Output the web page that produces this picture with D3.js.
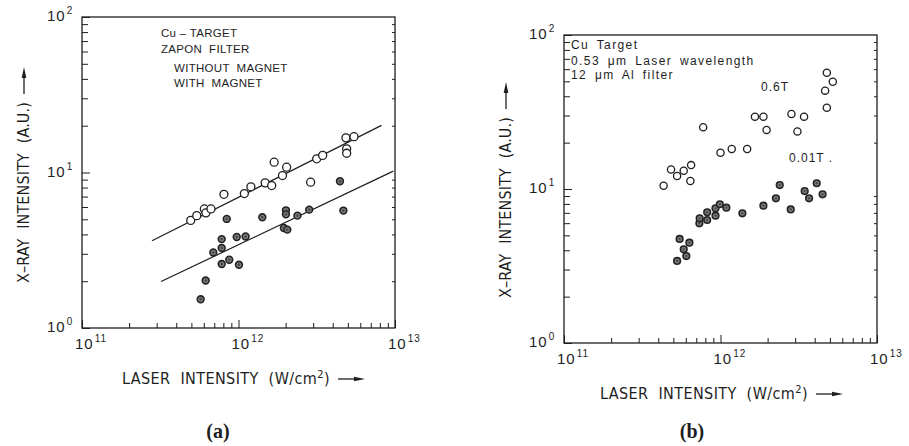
<!DOCTYPE html>
<html><head><meta charset="utf-8">
<script src="https://cdn.jsdelivr.net/npm/d3@7"></script>
<style>body{margin:0;background:#fff}svg{display:block}</style>
</head><body>
<svg id="c" width="909" height="446"></svg>
<script>
// ---- Panel (a): Cu target, Zapon filter ----
const aOpenX = [4.95e11,5.41e11,6.05e11,6.19e11,6.67e11,8.07e11,1.09e12,1.20e12,1.48e12,1.63e12,1.69e12,1.91e12,2.03e12,2.89e12,3.16e12,3.45e12,4.86e12,5.47e12,4.91e12,4.91e12];
const aOpenY = [4.92,5.28,5.83,5.50,5.83,7.24,7.32,8.09,8.58,8.24,11.65,9.56,10.82,8.66,12.25,12.88,16.7,17.0,14.2,13.3];
const aFillX = [5.73e11,6.17e11,6.90e11,7.81e11,7.81e11,7.81e11,8.73e11,8.41e11,9.74e11,1.007e12,1.11e12,1.42e12,2.01e12,2.01e12,1.95e12,2.05e12,2.38e12,2.83e12,4.68e12,4.45e12];
const aFillY = [1.53,2.02,3.06,3.73,3.27,2.58,2.75,5.03,3.85,2.55,3.88,5.15,5.71,5.38,4.40,4.29,5.28,5.77,5.69,8.79];
const aFitUpperX = [2.8e11, 8.2e12];
const aFitUpperY = [3.64, 20.1];
const aFitLowerX = [3.2e11, 9.75e12];
const aFitLowerY = [1.99, 10.2];
const aLegend = ["Cu \u2013 TARGET", "ZAPON  FILTER", "WITHOUT  MAGNET", "WITH  MAGNET"];

// ---- Panel (b): Cu target, 0.53 um, 12 um Al filter ----
const bOpenX = [4.33e11,4.83e11,5.28e11,5.82e11,6.49e11,6.42e11,7.75e11,1.0e12,1.18e12,1.48e12,1.66e12,1.88e12,1.97e12,2.84e12,3.42e12,3.10e12,4.78e12,5.22e12,4.66e12,4.78e12];
const bOpenY = [10.5,13.4,12.15,13.15,14.3,11.27,25.2,17.2,18.2,18.2,29.5,29.5,24.2,30.7,29.5,23.6,56.9,49.7,43.5,33.7];
const bFillX = [5.28e11,5.48e11,5.82e11,6.05e11,6.33e11,7.33e11,7.36e11,8.22e11,8.22e11,9.29e11,9.29e11,9.9e11,1.09e12,1.38e12,1.88e12,2.26e12,2.39e12,2.81e12,3.45e12,3.68e12,4.12e12,4.49e12];
const bFillY = [3.41,4.74,4.06,3.67,4.48,5.99,6.45,7.06,6.29,7.49,6.71,7.96,7.56,6.95,7.79,8.70,10.6,7.37,9.70,8.70,10.9,9.24];
const bLegend = ["Cu Target", "0.53 \u03BCm Laser wavelength", "12 \u03BCm Al filter"];
const bSeriesLabels = ["0.6T", "0.01T ."];

// ---- shared axis ticks ----
const xMajor = [1e11, 1e12, 1e13];
const xExp = ["11", "12", "13"];
const yMajor = [1, 10, 100];
const yExp = ["0", "1", "2"];
const xMinor = [2,3,4,5,6,7,8,9].flatMap(k => [k*1e11, k*1e12]);
const yMinor = [2,3,4,5,6,7,8,9].flatMap(k => [k, k*10]);

const svg = d3.select("#c");
const INK = "#1e1e1e";
const SANS = "'Liberation Sans', Arial, sans-serif";
const NARROW = "'Liberation Sans Narrow', 'DejaVu Sans Condensed', 'Liberation Sans', sans-serif";

// stretch a text to a target width by adjusting letter spacing
function fitWidth(t, target) {
  const n = t.text().length;
  const w = t.node().getComputedTextLength();
  const ls = parseFloat(t.attr("letter-spacing") || 0);
  t.attr("letter-spacing", ls + (target - w) / n);
  return t.node().getComputedTextLength();
}

function arrow(g, x, y) {
  g.append("line").attr("x1", x).attr("x2", x + 20).attr("y1", y).attr("y2", y)
    .attr("stroke", INK).attr("stroke-width", 1.3);
  g.append("path").attr("d", `M${x + 27},${y} L${x + 16},${y - 2.3} L${x + 16},${y + 2.3} Z`)
    .attr("fill", INK);
}

function drawPanel(p) {
  const g = svg.append("g");
  const x = d3.scaleLog().domain([1e11, 1e13]).range([p.x0, p.x1]);
  const y = d3.scaleLog().domain([1, 100]).range([p.y1, p.y0]);

  g.append("rect").attr("x", p.x0).attr("y", p.y0)
    .attr("width", p.x1 - p.x0).attr("height", p.y1 - p.y0)
    .attr("fill", "none").attr("stroke", INK).attr("stroke-width", 1.3);

  const clean = s => s.call(a => a.select(".domain").remove()).attr("color", INK);
  g.append("g").attr("transform", `translate(0,${p.y1})`)
    .call(d3.axisBottom(x).tickValues(xMinor).tickSize(-5).tickSizeOuter(0).tickFormat(""))
    .call(clean);
  g.append("g").attr("transform", `translate(0,${p.y1})`)
    .call(d3.axisBottom(x).tickValues(xMajor).tickSize(-8).tickSizeOuter(0).tickFormat(""))
    .call(clean);
  g.append("g").attr("transform", `translate(${p.x0},0)`)
    .call(d3.axisLeft(y).tickValues(yMinor).tickSize(-6).tickSizeOuter(0).tickFormat(""))
    .call(clean);
  g.append("g").attr("transform", `translate(${p.x0},0)`)
    .call(d3.axisLeft(y).tickValues(yMajor).tickSize(-8).tickSizeOuter(0).tickFormat(""))
    .call(clean);
  g.append("g").attr("transform", `translate(${p.x1},0)`)
    .call(d3.axisRight(y).tickValues(yMinor).tickSize(-3).tickSizeOuter(0).tickFormat(""))
    .call(clean);
  g.selectAll(".tick line").attr("stroke-width", 1);

  xMajor.forEach((v, i) => {
    const t = g.append("text").attr("x", x(v) - 7).attr("y", p.y1 + 21)
      .attr("font-family", SANS).attr("font-size", 15).attr("letter-spacing", 1).attr("fill", INK);
    t.append("tspan").text("10");
    t.append("tspan").attr("dy", -7).attr("dx", 1).attr("font-size", 10).text(xExp[i]);
  });
  yMajor.forEach((v, i) => {
    const t = g.append("text").attr("x", p.x0 - 35).attr("y", y(v) + 4)
      .attr("font-family", SANS).attr("font-size", 15).attr("letter-spacing", 1).attr("fill", INK);
    t.append("tspan").text("10");
    t.append("tspan").attr("dy", -7).attr("dx", 1).attr("font-size", 10).text(yExp[i]);
  });

  // x axis title
  const xt = g.append("text").attr("x", p.xtX).attr("y", p.xtY)
    .attr("font-family", NARROW).attr("font-size", 16).attr("letter-spacing", 0.8)
    .attr("word-spacing", 5).attr("fill", INK);
  xt.append("tspan").text("LASER INTENSITY (W/cm");
  xt.append("tspan").attr("dy", -6).attr("font-size", 11).text("2");
  xt.append("tspan").attr("dy", 6).text(")");
  const xw = fitWidth(xt, 208);
  arrow(g, p.xtX + xw + 8, p.xtY - 5);

  // y axis title (rotated), centred on ytY
  const yg = g.append("g").attr("transform", `translate(${p.ytX},${p.ytY}) rotate(-90)`);
  const yt = yg.append("text").attr("x", 0).attr("y", 0)
    .attr("font-family", NARROW).attr("font-size", 16).attr("letter-spacing", 0.8)
    .attr("word-spacing", 5).attr("fill", INK).text("X\u2013RAY INTENSITY (A.U.)");
  const yw = fitWidth(yt, 181);
  const total = yw + 35;
  yt.attr("x", -total / 2);
  arrow(yg, -total / 2 + yw + 8, -5);

  g.append("text").attr("x", p.capX).attr("y", 438).attr("text-anchor", "middle")
    .attr("font-family", "'Liberation Serif', 'Times New Roman', serif")
    .attr("font-weight", "bold").attr("font-size", 20).attr("fill", INK).text(p.cap);

  return { g, x, y };
}

function openPts(g, x, y, xs, ys, r) {
  g.append("g").selectAll("circle").data(xs.map((v, i) => [v, ys[i]])).join("circle")
    .attr("cx", d => x(d[0])).attr("cy", d => y(d[1])).attr("r", r)
    .attr("fill", "#fff").attr("stroke", INK).attr("stroke-width", 1.3);
}
function fillPts(g, x, y, xs, ys, r) {
  const gg = g.append("g");
  const data = xs.map((v, i) => [v, ys[i]]);
  gg.selectAll("circle.o").data(data).join("circle").attr("class", "o")
    .attr("cx", d => x(d[0])).attr("cy", d => y(d[1])).attr("r", r)
    .attr("fill", "#7a7a7a").attr("stroke", "#222").attr("stroke-width", 1.6);
  gg.selectAll("circle.i").data(data).join("circle").attr("class", "i")
    .attr("cx", d => x(d[0])).attr("cy", d => y(d[1])).attr("r", r * 0.35)
    .attr("fill", "#444");
}

// ---- Panel (a) ----
const A = drawPanel({ x0: 82, x1: 395, y0: 17, y1: 328, xtX: 122, xtY: 384, ytX: 29, ytY: 175, capX: 218, cap: "(a)" });
const line = d3.line().x(d => A.x(d[0])).y(d => A.y(d[1]));
A.g.append("path").attr("d", line(aFitUpperX.map((v, i) => [v, aFitUpperY[i]])))
  .attr("stroke", INK).attr("stroke-width", 1.2).attr("fill", "none");
A.g.append("path").attr("d", line(aFitLowerX.map((v, i) => [v, aFitLowerY[i]])))
  .attr("stroke", INK).attr("stroke-width", 1.2).attr("fill", "none");
fillPts(A.g, A.x, A.y, aFillX, aFillY, 3.4);
openPts(A.g, A.x, A.y, aOpenX, aOpenY, 4);
const aLegPos = [[161, 37], [161, 53], [174, 72], [174, 87]];
aLegend.forEach((s, i) => {
  A.g.append("text").attr("x", aLegPos[i][0]).attr("y", aLegPos[i][1])
    .attr("font-family", SANS).attr("font-size", 11.5).attr("letter-spacing", 0.3)
    .attr("fill", INK).style("white-space", "pre").text(s);
});

// ---- Panel (b) ----
const B = drawPanel({ x0: 564, x1: 877, y0: 35, y1: 343, xtX: 600, xtY: 399, ytX: 511, ytY: 190, capX: 692, cap: "(b)" });
fillPts(B.g, B.x, B.y, bFillX, bFillY, 3.3);
openPts(B.g, B.x, B.y, bOpenX, bOpenY, 3.6);
const bLegPos = [[571, 49], [571, 65], [571, 79]];
bLegend.forEach((s, i) => {
  B.g.append("text").attr("x", bLegPos[i][0]).attr("y", bLegPos[i][1])
    .attr("font-family", SANS).attr("font-size", 12).attr("letter-spacing", 1.4)
    .attr("word-spacing", 3).attr("fill", INK).text(s);
});
const bLabPos = [[761, 91], [789, 162]];
bSeriesLabels.forEach((s, i) => {
  B.g.append("text").attr("x", bLabPos[i][0]).attr("y", bLabPos[i][1])
    .attr("font-family", SANS).attr("font-size", 12).attr("letter-spacing", 1)
    .attr("fill", INK).text(s);
});
</script>
</body></html>
